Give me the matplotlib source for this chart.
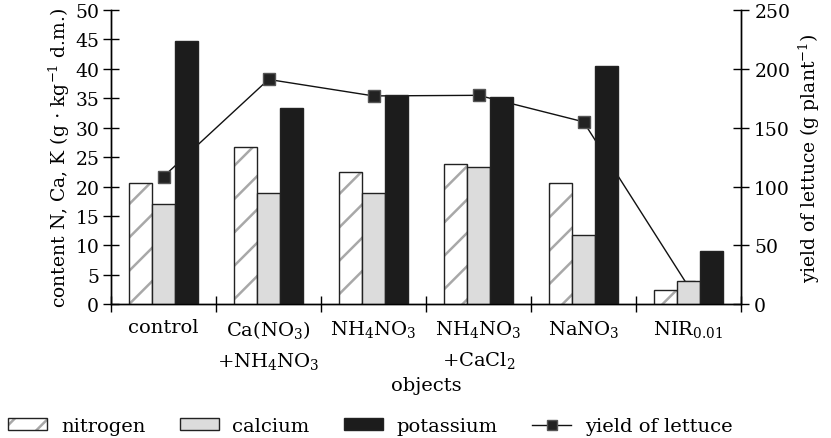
import numpy as np
import matplotlib
matplotlib.use("Agg")
import matplotlib.pyplot as plt
from matplotlib.lines import Line2D
from matplotlib.patches import Patch

plt.rcParams['font.family'] = ['DejaVu Serif']
plt.rcParams['mathtext.fontset'] = 'dejavuserif'
plt.rcParams['hatch.linewidth'] = 1.8

# data
objects = ['control', 'Ca(NO$_3$)\n+NH$_4$NO$_3$', 'NH$_4$NO$_3$',
           'NH$_4$NO$_3$\n+CaCl$_2$', 'NaNO$_3$', 'NIR$_{0.01}$']
nitrogen = [20.6, 26.7, 22.4, 23.9, 20.6, 2.4]
calcium = [17.0, 18.9, 18.9, 23.4, 11.7, 4.0]
potassium = [44.8, 33.3, 35.6, 35.2, 40.5, 9.0]
yield_lettuce = [108.5, 191, 177, 177.5, 155, 15]

x = np.arange(len(objects))
w = 0.22
hatch_grey = '#a8a8a8'
edge = '#222222'

fig = plt.figure(figsize=(8.31, 4.39), dpi=100)
ax = fig.add_axes([0.1336, 0.3046, 0.7581, 0.6704])
ax2 = ax.twinx()

# line behind the bars
ax.set_zorder(ax2.get_zorder() + 1)
ax.patch.set_visible(False)

# nitrogen: grey hatch first, then black outline on top
ax.bar(x - w, nitrogen, w, color='white', edgecolor=hatch_grey, linewidth=0, hatch='/')
ax.bar(x - w, nitrogen, w, color='none', edgecolor=edge, linewidth=1.0)
ax.bar(x, calcium, w, color='#dcdcdc', edgecolor=edge, linewidth=1.0)
ax.bar(x + w, potassium, w, color='#1c1c1c', edgecolor=edge, linewidth=1.0)

ax2.plot(x, yield_lettuce, color='#111111', linewidth=1.0, marker='s', markersize=9,
         markerfacecolor='#222222', markeredgecolor='#555555', markeredgewidth=1.0)

ax.set_xlim(-0.5, len(objects) - 0.5)
ax.set_ylim(0, 50)
ax2.set_ylim(0, 250)
ax.set_yticks(np.arange(0, 51, 5))
ax2.set_yticks(np.arange(0, 251, 50))

ax.set_xticks(np.arange(-0.5, len(objects), 1.0))
ax.set_xticklabels([])
ax.set_xticks(x, minor=True)
ax.set_xticklabels(objects, minor=True, fontsize=14, va='top', linespacing=1.6)
ax.tick_params(axis='x', which='minor', length=0, pad=10)
ax.tick_params(axis='x', which='major', direction='inout', length=11, width=1.0)
ax.tick_params(axis='y', direction='inout', length=11, width=1.0, labelsize=13.5, pad=3)
ax2.tick_params(axis='y', direction='inout', length=11, width=1.0, labelsize=13.5, pad=4)

for a in (ax, ax2):
    a.spines['top'].set_visible(False)
    for s in ('left', 'right', 'bottom'):
        a.spines[s].set_linewidth(1.0)

ax.set_ylabel('content N, Ca, K (g $\\cdot$ kg$^{-1}$ d.m.)', fontsize=13.5, labelpad=2)
ax2.set_ylabel('yield of lettuce (g plant$^{-1}$)', fontsize=13.5, labelpad=5)
ax.set_xlabel('objects', fontsize=14, labelpad=4)

nitro_handle = (Patch(facecolor='white', edgecolor=hatch_grey, hatch='/', linewidth=0),
                Patch(facecolor='none', edgecolor=edge, linewidth=1.0))
handles = [
    nitro_handle,
    Patch(facecolor='#dcdcdc', edgecolor=edge, linewidth=1.0),
    Patch(facecolor='#1c1c1c', edgecolor=edge, linewidth=1.0),
    Line2D([], [], color='#111111', linewidth=1.0, marker='s', markersize=7,
           markerfacecolor='#222222', markeredgecolor='#555555'),
]
labels = ['nitrogen', 'calcium', 'potassium', 'yield of lettuce']
fig.legend(handles, labels, loc='lower left', bbox_to_anchor=(-0.004, -0.02), ncol=4,
           frameon=False, fontsize=14, handlelength=2.0, handleheight=0.6,
           columnspacing=1.78, handletextpad=0.7, borderaxespad=0.2)

fig.savefig('out.png', dpi=100)
